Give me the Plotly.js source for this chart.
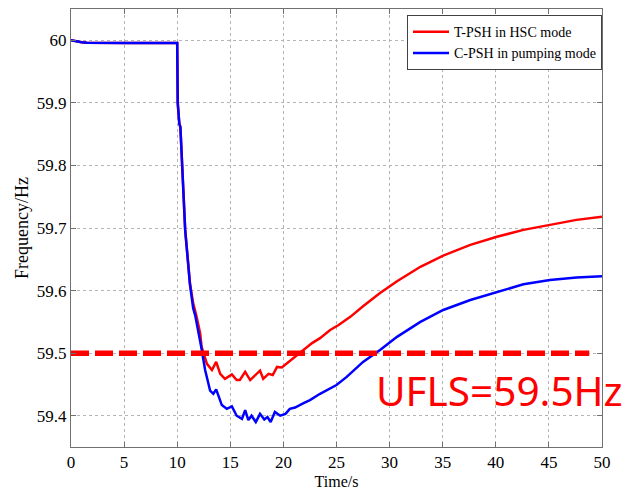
<!DOCTYPE html>
<html>
<head>
<meta charset="utf-8">
<script src="https://cdn.plot.ly/plotly-3.0.1.min.js"></script>
<style>
  html, body { margin: 0; padding: 0; background: #ffffff; }
  #chart { width: 627px; height: 491px; }
</style>
</head>
<body>
<div id="chart"></div>
<script>
// Frequency response after the disturbance at t = 10 s

// T-PSH in HSC mode (red)
const tpshTime = [0, 0.5, 1, 1.5, 2, 3, 5, 7, 9, 10.0, 10.05, 10.12, 10.2, 10.3, 10.44, 10.75, 11.2, 11.5, 11.8, 12.16, 12.3, 12.8, 13.27, 13.67, 14.05, 14.5, 15.15, 15.6, 15.9, 16.4, 16.87, 17.34, 17.8, 18.1, 18.6, 19.0, 19.4, 19.85, 20.3, 20.8, 21.26, 21.9, 22.7, 23.45, 24.4, 25.2, 26.3, 27.5, 29.1, 30.7, 32.9, 35.05, 37.6, 40.1, 42.6, 45.1, 47.6, 50];
const tpshFreq = [60.0, 59.998, 59.997, 59.996, 59.9958, 59.9956, 59.9955, 59.9955, 59.9955, 59.9955, 59.90, 59.872, 59.867, 59.861, 59.805, 59.697, 59.612, 59.58, 59.56, 59.532, 59.51, 59.483, 59.473, 59.486, 59.467, 59.459, 59.466, 59.457, 59.457, 59.47, 59.457, 59.465, 59.472, 59.459, 59.467, 59.465, 59.478, 59.477, 59.483, 59.49, 59.497, 59.505, 59.516, 59.524, 59.537, 59.545, 59.558, 59.575, 59.596, 59.615, 59.638, 59.656, 59.673, 59.686, 59.697, 59.705, 59.713, 59.718];

// C-PSH in pumping mode (blue)
const cpshTime = [0, 0.5, 1, 1.5, 2, 3, 5, 7, 9, 10.0, 10.05, 10.12, 10.2, 10.3, 10.44, 10.75, 11.2, 11.5, 11.7, 12.0, 12.26, 12.63, 13.1, 13.4, 13.67, 14.2, 14.67, 15.15, 15.6, 16.1, 16.4, 16.7, 17.0, 17.4, 17.8, 18.2, 18.5, 18.8, 19.2, 19.7, 20.2, 20.6, 21.1, 21.9, 22.5, 23.45, 24.1, 25.0, 25.96, 27.5, 29.1, 30.7, 32.9, 35.05, 37.6, 40.1, 42.6, 45.1, 47.6, 50];
const cpshFreq = [60.0, 59.998, 59.997, 59.996, 59.9958, 59.9956, 59.9955, 59.9955, 59.9955, 59.9955, 59.90, 59.872, 59.867, 59.861, 59.805, 59.697, 59.61, 59.572, 59.56, 59.535, 59.51, 59.473, 59.44, 59.435, 59.442, 59.417, 59.411, 59.415, 59.40, 59.395, 59.409, 59.393, 59.40, 59.39, 59.403, 59.394, 59.398, 59.39, 59.406, 59.40, 59.403, 59.411, 59.413, 59.42, 59.425, 59.435, 59.441, 59.449, 59.462, 59.486, 59.505, 59.526, 59.55, 59.569, 59.585, 59.598, 59.61, 59.617, 59.621, 59.623];

// Under-frequency load shedding threshold
const uflsLevel = 59.5;
const uflsSpan = [0, 48.8];

// Axis ticks
const timeTicks = [0, 5, 10, 15, 20, 25, 30, 35, 40, 45, 50];
const freqTicks = [59.4, 59.5, 59.6, 59.7, 59.8, 59.9, 60];
const freqTickText = ['59.4', '59.5', '59.6', '59.7', '59.8', '59.9', '60'];

const serif = 'Liberation Serif';

const traces = [
  {
    x: tpshTime, y: tpshFreq, type: 'scatter', mode: 'lines',
    name: 'T-PSH in HSC mode',
    line: { color: '#ff0000', width: 2.5 }
  },
  {
    x: cpshTime, y: cpshFreq, type: 'scatter', mode: 'lines',
    name: 'C-PSH in pumping mode',
    line: { color: '#0000ff', width: 2.5 }
  },
  {
    x: uflsSpan, y: [uflsLevel, uflsLevel], type: 'scatter', mode: 'lines',
    showlegend: false, hoverinfo: 'skip',
    line: { color: '#ff0000', width: 5.5, dash: '18px,6px' }
  }
];

const axisCommon = {
  showline: true, linecolor: '#707070', linewidth: 1, mirror: 'ticks',
  ticks: 'inside', ticklen: 5, tickcolor: '#707070', tickwidth: 1,
  showgrid: true, gridcolor: '#b4b4b4', griddash: 'dot', gridwidth: 1,
  zeroline: false,
  tickfont: { family: serif, size: 17, color: '#000000' }
};

const layout = {
  width: 627, height: 491,
  margin: { l: 71, r: 25, t: 9, b: 44 },
  paper_bgcolor: '#ffffff', plot_bgcolor: '#ffffff',
  showlegend: true,
  legend: {
    x: 1, xanchor: 'right', y: 0.986, yanchor: 'top',
    bgcolor: '#ffffff', bordercolor: '#404040', borderwidth: 1,
    font: { family: serif, size: 14, color: '#000000' },
    itemwidth: 36, tracegroupgap: 0
  },
  xaxis: Object.assign({}, axisCommon, {
    range: [0, 50], tickvals: timeTicks,
    title: { text: 'Time/s', font: { family: serif, size: 16, color: '#000000' }, standoff: 4 }
  }),
  yaxis: Object.assign({}, axisCommon, {
    range: [59.35, 60.05], tickvals: freqTicks, ticktext: freqTickText,
    title: { text: 'Frequency/Hz', font: { family: serif, size: 18, color: '#000000' }, standoff: 3 }
  }),
  annotations: [
    {
      x: 28.55, y: 59.441, xref: 'x', yref: 'y', xanchor: 'left', yanchor: 'middle',
      text: 'UFLS=59.5Hz', showarrow: false,
      font: { family: 'Noto Sans', size: 40.5, color: '#ff0000' }
    }
  ]
};

Plotly.newPlot('chart', traces, layout, { staticPlot: true, displayModeBar: false });
</script>
</body>
</html>
